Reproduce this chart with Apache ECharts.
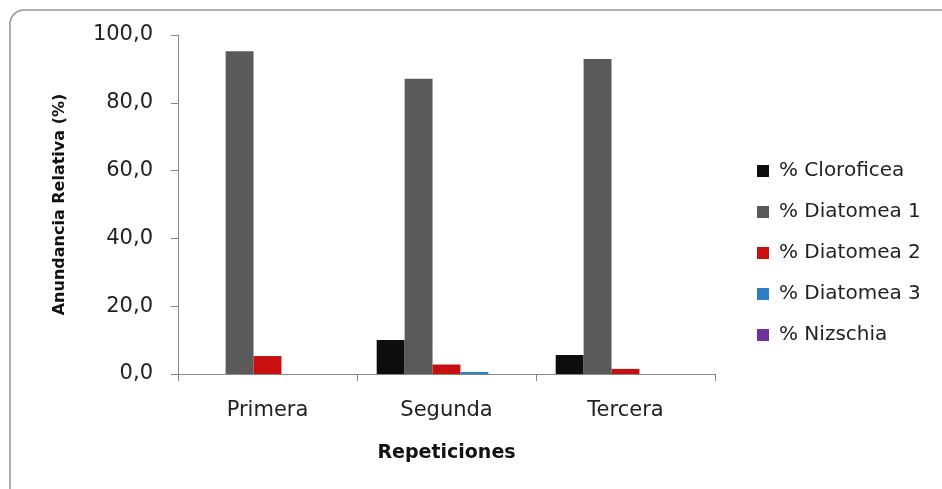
<!DOCTYPE html>
<html>
<head>
<meta charset="utf-8">
<script src="https://cdn.jsdelivr.net/npm/echarts@6/dist/echarts.min.js"></script>
<style>
  html, body { margin: 0; padding: 0; background: #fff; }
  #chart { width: 942px; height: 489px; }
</style>
</head>
<body>
<div id="chart"></div>
<script>
// datos
const categorias = ['Primera', 'Segunda', 'Tercera']
const nombres = ['% Cloroficea', '% Diatomea 1', '% Diatomea 2', '% Diatomea 3', '% Nizschia']
const cloroficea = [0, 10.0, 5.6]
const diatomea1 = [95.2, 87.1, 92.9]
const diatomea2 = [5.3, 2.8, 1.5]
const diatomea3 = [0, 0.6, 0]
const nizschia = [0, 0, 0]
const yTicks = [0, 20, 40, 60, 80, 100]

const valores = [cloroficea, diatomea1, diatomea2, diatomea3, nizschia]
const colores = ['#0d0d0d', '#5a5a5a', '#c81010', '#2f7fc4', '#7030a0']
const fuente = 'DejaVu Sans'

const myChart = echarts.init(document.getElementById('chart'))

const series = nombres.map(function(n, i) {
  return {
    name: n,
    type: 'bar',
    data: valores[i],
    barGap: '0%',
    barCategoryGap: '22%',
    itemStyle: {
      color: colores[i],
      borderWidth: 0
    }
  }
})

const option = {
  animation: false,
  backgroundColor: '#fff',
  textStyle: { fontFamily: fuente },
  graphic: [{
    type: 'rect',
    shape: { x: 10, y: 10, width: 960, height: 500, r: 14 },
    style: { fill: 'none', stroke: '#949494', lineWidth: 1.5 },
    z: -1
  }],
  grid: { left: 178, top: 35, right: 227, bottom: 115 },
  legend: {
    orient: 'vertical',
    left: 752,
    top: 156,
    itemWidth: 12,
    itemHeight: 12,
    itemGap: 21,
    icon: 'rect',
    textStyle: { fontSize: 20, color: '#222', fontFamily: fuente, padding: [0, 0, 0, 5] },
    data: nombres
  },
  xAxis: {
    type: 'category',
    data: categorias,
    name: 'Repeticiones',
    nameLocation: 'middle',
    nameGap: 70,
    nameTextStyle: { fontSize: 19, fontWeight: 'bold', color: '#111', fontFamily: fuente },
    axisLine: { lineStyle: { color: '#868686', width: 1 } },
    axisTick: { show: true, length: 7, lineStyle: { color: '#868686' } },
    axisLabel: { fontSize: 21, color: '#222', margin: 26 }
  },
  yAxis: {
    type: 'value',
    min: yTicks[0],
    max: yTicks[yTicks.length - 1],
    interval: 20,
    name: 'Anundancia Relativa (%)',
    nameLocation: 'middle',
    nameGap: 110,
    nameTextStyle: { fontSize: 16, fontWeight: 'bold', color: '#111', fontFamily: fuente },
    splitLine: { show: false },
    axisLine: { show: true, lineStyle: { color: '#868686', width: 1 } },
    axisTick: { show: true, length: 7, lineStyle: { color: '#868686' } },
    axisLabel: {
      fontSize: 21,
      color: '#222',
      margin: 25,
      formatter: function(v) { return v.toFixed(1).replace('.', ',') }
    }
  },
  series: series
}

myChart.setOption(option)
</script>
</body>
</html>
